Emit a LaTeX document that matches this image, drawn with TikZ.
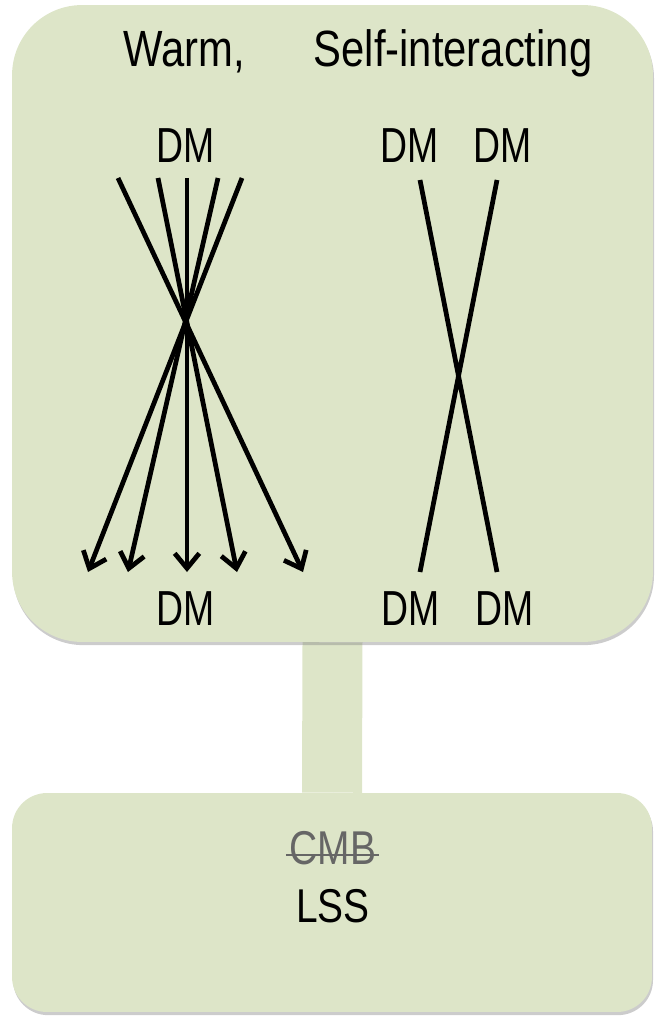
\documentclass[tikz,border=0pt]{standalone}
\usepackage{fontspec}
\setmainfont{Liberation Sans}
\newfontfamily\narrowfont[FakeStretch=0.82]{Liberation Sans}
\newfontfamily\dmfont[FakeStretch=0.76]{Liberation Sans}
\usetikzlibrary{arrows.meta,shadows,backgrounds}
\definecolor{boxgreen}{RGB}{221,229,200}
\definecolor{strikegrey}{RGB}{102,102,102}

\begin{document}
\begin{tikzpicture}[x=.02cm,y=-.02cm,
  panel/.style={fill=boxgreen, rounded corners=#1, inner sep=0pt, drop shadow={shadow xshift=.6pt, shadow yshift=-1.8pt, opacity=.4}},
  link/.style={draw=boxgreen, line width=1.2cm, drop shadow={shadow xshift=.8pt, shadow yshift=0pt, opacity=.3}},
  title/.style={anchor=base, font=\narrowfont\fontsize{29}{29}\selectfont},
  dm/.style={anchor=base, font=\dmfont\fontsize{28}{28}\selectfont},
  probe/.style={anchor=base, inner sep=0pt, font=\narrowfont\fontsize{27}{27}\selectfont},
  ray/.style={line width=2.7pt, -{Straight Barb[length=8.5pt,width=14pt]}},
  track/.style={line width=2.7pt},
  strike/.style={strikegrey, line width=1.6pt}]
\useasboundingbox (0,0) rectangle (654,1016);
% boxes
\node[panel=1.4cm, minimum width=12.82cm, minimum height=12.74cm] (model) at (332.5,323.5) {};
\node[panel=.7cm, minimum width=12.8cm, minimum height=4.38cm] (survey) at (332,902.5) {};
\begin{scope}[on background layer]
\draw[link] (model.south) -- (survey.north);
\end{scope}
% titles
\node[title] (warm) at (184,67) {Warm,};
\node[title] (self) at (453,67) {Self-interacting};
% warm DM fan
\node[dm] (wtop) at (186,163) {DM};
\node[dm] (wbot) at (186,625) {DM};
\foreach \a/\b [count=\i] in {118/303, 158/237, 187/187, 218/128, 242/88}
{\coordinate (wt\i) at (\a,178); \coordinate (wb\i) at (\b,572);
\draw[ray] (wt\i) -- (wb\i);}
% self-interacting DM
\node[dm] (sa) at (410,163) {DM};
\node[dm] (sb) at (503,163) {DM};
\node[dm] (sc) at (411,625) {DM};
\node[dm] (sd) at (505,625) {DM};
\coordinate (st1) at (420,180); \coordinate (st2) at (497,180);
\coordinate (sb1) at (420,572); \coordinate (sb2) at (497,572);
\draw[track] (st1) -- (sb2) (st2) -- (sb1);
% probes
\node[probe, strikegrey] (cmb) at (333,864) {CMB};
\node[probe] (lss) at (333,922) {LSS};
\draw[strike] ([xshift=-2pt,yshift=.18cm]cmb.base west) -- ([xshift=1.5pt,yshift=.18cm]cmb.base east);
\end{tikzpicture}
\end{document}
